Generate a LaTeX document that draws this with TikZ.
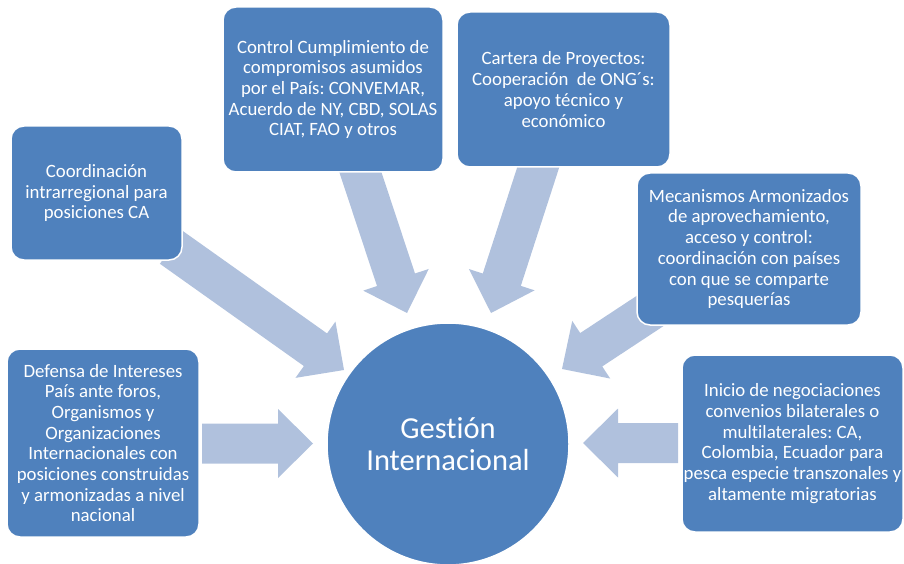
\documentclass[tikz,border=0pt]{standalone}
\usepackage{fontspec}
\setmainfont{Carlito}[Ligatures={NoCommon}]
\usetikzlibrary{calc}
\definecolor{boxblue}{HTML}{4F81BD}
\definecolor{arrowblue}{HTML}{B0C1DD}
\frenchspacing
\newcommand{\blockarrow}[2]{%
  \coordinate (#1-h) at ($(#2)!35pt!(#1)$);
  \fill[flow] ($(#1)!20pt!90:(#2)$) -- ($(#1-h)!20pt!90:(#2)$) -- ($(#1-h)!34.5pt!90:(#2)$)
    -- (#2) -- ($(#1-h)!34.5pt!-90:(#2)$) -- ($(#1-h)!20pt!-90:(#2)$) -- ($(#1)!20pt!-90:(#2)$) -- cycle;
}
\begin{document}
\begin{tikzpicture}[x=1pt,y=-1pt,
  box/.style={draw=white, line width=1.5pt, fill=boxblue, rounded corners=13pt, text=white, align=center, font=\fontsize{18.8}{20.7}\selectfont, inner sep=0pt},
  hub/.style={circle, draw=white, line width=1.5pt, fill=boxblue, text=white, align=center, font=\fontsize{30.5}{32.5}\selectfont, minimum size=242pt, inner sep=0pt},
  flow/.style={fill=arrowblue}]
\useasboundingbox (0,0) rectangle (904,564);
\clip (0,0) rectangle (904,564);
% arrow end points
\coordinate (tA) at (171.5,247.5); \coordinate (pA) at (344,370);
\coordinate (tB) at (358,165);     \coordinate (pB) at (407,313);
\coordinate (tC) at (540.6,160);   \coordinate (pC) at (491,313);
\coordinate (tD) at (670.5,297.5); \coordinate (pD) at (562,369);
\coordinate (tE) at (202,443.5);   \coordinate (pE) at (313,443.5);
\coordinate (tF) at (678,443);     \coordinate (pF) at (583,443);
\blockarrow{tA}{pA}
\blockarrow{tB}{pB}
\blockarrow{tC}{pC}
\blockarrow{tD}{pD}
\blockarrow{tE}{pE}
\blockarrow{tF}{pF}
% boxes
\node[box, minimum width=171pt, minimum height=134pt] (coord) at (96.5,193)
  {Coordinación\\intrarregional para\\posiciones CA};
\node[box, minimum width=220pt, minimum height=165pt] (control) at (333,89.5)
  {Control Cumplimiento de\\compromisos asumidos\\por el País: CONVEMAR,\\Acuerdo de NY, CBD, SOLAS\\CIAT, FAO y otros};
\node[box, minimum width=213pt, minimum height=155pt] (cartera) at (563.5,89.5)
  {Cartera de Proyectos:\\Cooperación\ \ de ONG´s:\\apoyo técnico y\\económico};
\node[box, minimum width=224pt, minimum height=152pt] (meca) at (749,249)
  {Mecanismos Armonizados\\de aprovechamiento,\\acceso y control:\\coordinación con países\\con que se comparte\\pesquerías};
\node[box, minimum width=221pt, minimum height=177pt] (inicio) at (792.5,443.5)
  {Inicio de negociaciones\\convenios bilaterales o\\multilaterales: CA,\\Colombia, Ecuador para\\pesca especie transzonales y\\altamente migratorias};
\node[box, minimum width=192pt, minimum height=188pt] (defensa) at (103,443)
  {Defensa de Intereses\\País ante foros,\\Organismos y\\Organizaciones\\Internacionales con\\posiciones construidas\\y armonizadas a nivel\\nacional};
\node[hub] (hub) at (448,444) {Gestión\\Internacional};
\end{tikzpicture}
\end{document}
